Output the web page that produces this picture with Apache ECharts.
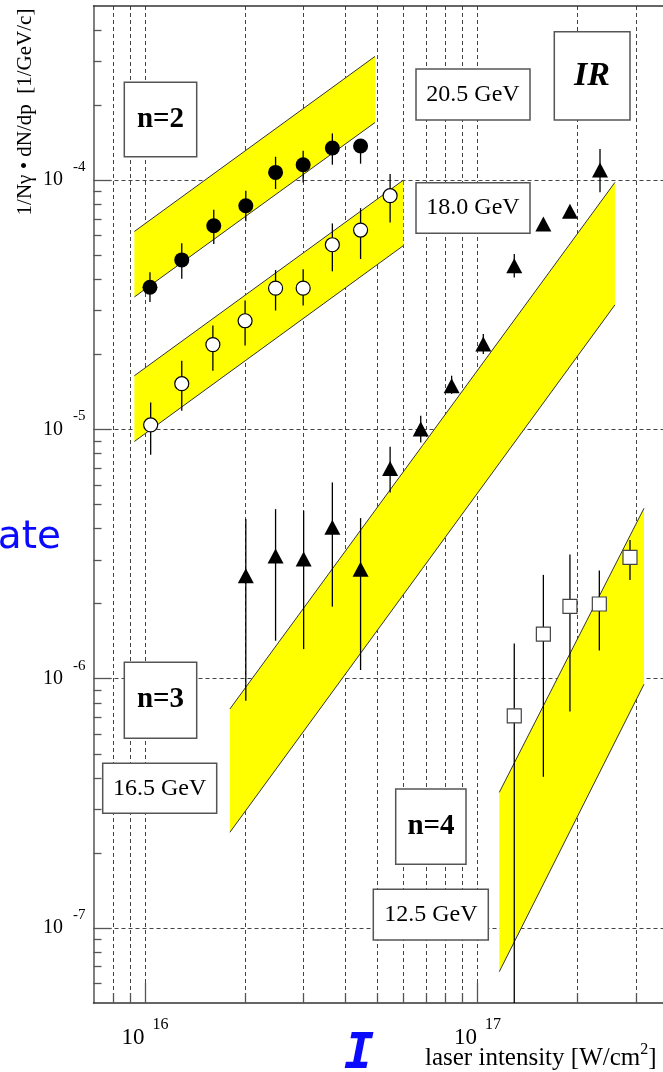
<!DOCTYPE html>
<html><head><meta charset="utf-8">
<script src="https://cdn.jsdelivr.net/npm/echarts@6/dist/echarts.min.js"></script>
<style>html,body{margin:0;padding:0;background:#fff}#c{width:663px;height:1072px}</style>
</head><body><div id="c"></div>
<script>
// ---- axis ticks ----
const xTickMajor = [1e16, 1e17];
const xTickMinor = [8e15, 9e15, 2e16, 3e16, 4e16, 5e16, 6e16, 7e16, 8e16, 9e16, 2e17, 3e17];
const yTickMajor = [1e-7, 1e-6, 1e-5, 1e-4];
const yTickMinor = [6e-8, 7e-8, 8e-8, 9e-8,
  2e-7, 3e-7, 4e-7, 5e-7, 6e-7, 7e-7, 8e-7, 9e-7,
  2e-6, 3e-6, 4e-6, 5e-6, 6e-6, 7e-6, 8e-6, 9e-6,
  2e-5, 3e-5, 4e-5, 5e-5, 6e-5, 7e-5, 8e-5, 9e-5,
  2e-4, 3e-4, 4e-4];

// ---- n=2, 20.5 GeV (filled circles) ----
const e205_x  = [1.035e16, 1.29e16, 1.61e16, 2.01e16, 2.47e16, 2.99e16, 3.66e16, 4.45e16];
const e205_y  = [3.72e-5, 4.79e-5, 6.57e-5, 7.9e-5, 1.075e-4, 1.154e-4, 1.346e-4, 1.371e-4];
const e205_lo = [3.25e-5, 4.02e-5, 5.55e-5, 6.84e-5, 9.22e-5, 9.8e-5, 1.154e-4, 1.165e-4];
const e205_hi = [4.27e-5, 5.58e-5, 7.61e-5, 9.07e-5, 1.242e-4, 1.313e-4, 1.541e-4, 1.45e-4];

// ---- n=2, 18.0 GeV (open circles) ----
const e180_x  = [1.04e16, 1.29e16, 1.60e16, 2.0e16, 2.47e16, 2.99e16, 3.66e16, 4.45e16, 5.46e16];
const e180_y  = [1.043e-5, 1.526e-5, 2.19e-5, 2.73e-5, 3.69e-5, 3.69e-5, 5.51e-5, 6.31e-5, 8.67e-5];
const e180_lo = [7.92e-6, 1.19e-5, 1.72e-5, 2.17e-5, 3.0e-5, 3.14e-5, 4.31e-5, 4.83e-5, 6.77e-5];
const e180_hi = [1.284e-5, 1.887e-5, 2.61e-5, 3.29e-5, 4.36e-5, 4.39e-5, 6.71e-5, 7.73e-5, 1.059e-4];

// ---- n=3, 16.5 GeV (triangles) ----
const e165_x  = [2.01e16, 2.47e16, 3.0e16, 3.66e16, 4.45e16, 5.46e16, 6.75e16, 8.36e16, 1.041e17, 1.29e17, 1.578e17, 1.897e17, 2.336e17];
const e165_y  = [2.59e-6, 3.11e-6, 3.02e-6, 4.05e-6, 2.75e-6, 6.98e-6, 1.004e-5, 1.498e-5, 2.2e-5, 4.54e-5, 6.67e-5, 7.5e-5, 1.099e-4];
const e165_lo = [8.16e-7, 1.42e-6, 1.315e-6, 1.946e-6, 1.084e-6, 5.59e-6, 8.87e-6, 1.39e-5, 2.01e-5, 4.07e-5, 6.45e-5, 7.25e-5, 8.94e-5];
const e165_hi = [4.37e-6, 4.79e-6, 4.72e-6, 6.13e-6, 4.41e-6, 8.52e-6, 1.135e-5, 1.643e-5, 2.415e-5, 5.06e-5, 6.9e-5, 7.75e-5, 1.334e-4];

// ---- n=4, 12.5 GeV (open squares) ----
const e125_x  = [1.29e17, 1.578e17, 1.897e17, 2.325e17, 2.875e17];
const e125_y  = [7.1e-7, 1.511e-6, 1.95e-6, 1.994e-6, 3.07e-6];
const e125_lo = [3e-8, 4.04e-7, 7.39e-7, 1.298e-6, 2.49e-6];
const e125_hi = [1.385e-6, 2.61e-6, 3.15e-6, 2.72e-6, 3.6e-6];

// ---- yellow theory bands: [20.5 GeV, 18.0 GeV, 16.5 GeV, 12.5 GeV] ----
const bandXL   = [9.29e15, 9.29e15, 1.80e16, 1.163e17];
const bandXR   = [4.92e16, 5.98e16, 2.59e17, 3.168e17];
const bandTopL = [6.23e-5, 1.643e-5, 7.56e-7, 3.5e-7];
const bandTopR = [3.14e-4, 1.0e-4, 9.8e-5, 4.83e-6];
const bandBotL = [3.40e-5, 8.95e-6, 2.42e-7, 6.68e-8];
const bandBotR = [1.705e-4, 5.46e-5, 3.16e-5, 9.5e-7];

const SERIF = '"Liberation Serif","DejaVu Serif",serif';
const AX = '#555';
const X_MIN = 7e15, X_MAX = 3.6135e17, Y_MIN = 5e-8, Y_MAX = 5e-4;

function pts(xs, ys) { return xs.map((x, i) => [x, ys[i]]); }
function errs(xs, lo, hi) { return xs.map((x, i) => [x, lo[i], hi[i]]); }

function errItem(params, api) {
  const a = api.coord([api.value(0), api.value(1)]);
  const b = api.coord([api.value(0), api.value(2)]);
  return { type: 'line', shape: { x1: a[0], y1: a[1], x2: b[0], y2: b[1] },
           style: { stroke: '#000', lineWidth: 1.3 } };
}
function errSeries(name, data) {
  return { type: 'custom', name, xAxisIndex: 0, yAxisIndex: 0, clip: true, z: 3,
           encode: { x: 0, y: [1, 2] }, renderItem: errItem, data };
}

const bandData = bandXL.map((xl, i) => [xl, bandXR[i], bandTopL[i], bandTopR[i], bandBotL[i], bandBotR[i]]);

const supLabel = (v) => '{b|10}{s|' + Math.round(Math.log10(v)) + '}';
const dashed = { show: true, lineStyle: { type: [4, 3], color: '#444', width: 1 } };

const option = {
  animation: false,
  backgroundColor: '#fff',
  grid: { left: 93.5, top: 6, width: 569.5, height: 997, show: false },
  xAxis: [
    { type: 'log', logBase: 10, min: X_MIN, max: X_MAX, position: 'bottom',
      axisLine: { show: true, lineStyle: { color: '#333', width: 1.5 } },
      axisTick: { show: true, inside: true, length: 20, customValues: xTickMajor, lineStyle: { color: AX, width: 1.3 } },
      axisLabel: { show: true, customValues: xTickMajor, margin: 14, formatter: supLabel,
        rich: { b: { fontFamily: SERIF, fontSize: 23, color: '#000' },
                s: { fontFamily: SERIF, fontSize: 16, color: '#000', padding: [0, 0, 26, 8] } } },
      splitLine: dashed, minorTick: { show: false }, minorSplitLine: { show: false } },
    { type: 'log', logBase: 10, min: X_MIN, max: X_MAX, position: 'bottom',
      axisLine: { show: false },
      axisTick: { show: true, inside: true, length: 10, customValues: xTickMinor, lineStyle: { color: AX, width: 1.3 } },
      axisLabel: { show: false }, splitLine: dashed },
    { type: 'log', logBase: 10, min: X_MIN, max: X_MAX, position: 'top',
      axisLine: { show: true, lineStyle: { color: '#333', width: 1.5 } },
      axisTick: { show: false }, axisLabel: { show: false }, splitLine: { show: false } }
  ],
  yAxis: [
    { type: 'log', logBase: 10, min: Y_MIN, max: Y_MAX, position: 'left',
      axisLine: { show: true, lineStyle: { color: '#555', width: 1.5 } },
      axisTick: { show: true, inside: true, length: 18, customValues: yTickMajor, lineStyle: { color: AX, width: 1.3 } },
      axisLabel: { show: true, customValues: yTickMajor, margin: 8, formatter: supLabel,
        rich: { b: { fontFamily: SERIF, fontSize: 20, color: '#000' },
                s: { fontFamily: SERIF, fontSize: 15, color: '#000', padding: [0, 0, 26, 10] } } },
      splitLine: dashed, minorTick: { show: false }, minorSplitLine: { show: false } },
    { type: 'log', logBase: 10, min: Y_MIN, max: Y_MAX, position: 'left',
      axisLine: { show: false },
      axisTick: { show: true, inside: true, length: 8, customValues: yTickMinor, lineStyle: { color: AX, width: 1.3 } },
      axisLabel: { show: false }, splitLine: { show: false } }
  ],
  series: [
    { type: 'custom', name: 'bands', xAxisIndex: 0, yAxisIndex: 0, clip: true, z: 1,
      encode: { x: [0, 1], y: [2, 3, 4, 5] }, data: bandData,
      renderItem(params, api) {
        const xl = api.value(0), xr = api.value(1);
        const tl = api.coord([xl, api.value(2)]), tr = api.coord([xr, api.value(3)]);
        const bl = api.coord([xl, api.value(4)]), br = api.coord([xr, api.value(5)]);
        return { type: 'group', children: [
          { type: 'polygon', shape: { points: [tl, tr, br, bl] }, style: { fill: '#ffff00', stroke: null } },
          { type: 'line', shape: { x1: tl[0], y1: tl[1], x2: tr[0], y2: tr[1] }, style: { stroke: '#333', lineWidth: 1 } },
          { type: 'line', shape: { x1: bl[0], y1: bl[1], x2: br[0], y2: br[1] }, style: { stroke: '#333', lineWidth: 1 } }
        ] };
      } },
    errSeries('err205', errs(e205_x, e205_lo, e205_hi)),
    errSeries('err180', errs(e180_x, e180_lo, e180_hi)),
    errSeries('err165', errs(e165_x, e165_lo, e165_hi)),
    errSeries('err125', errs(e125_x, e125_lo, e125_hi)),
    { type: 'scatter', name: '20.5 GeV', xAxisIndex: 0, yAxisIndex: 0, z: 5, symbol: 'circle', symbolSize: 15,
      itemStyle: { color: '#000', opacity: 1 }, data: pts(e205_x, e205_y) },
    { type: 'scatter', name: '18.0 GeV', xAxisIndex: 0, yAxisIndex: 0, z: 5, symbol: 'circle', symbolSize: 14,
      itemStyle: { color: '#fff', borderColor: '#000', borderWidth: 1.2, opacity: 1 }, data: pts(e180_x, e180_y) },
    { type: 'scatter', name: '16.5 GeV', xAxisIndex: 0, yAxisIndex: 0, z: 5, symbol: 'triangle', symbolSize: [16, 15],
      itemStyle: { color: '#000', opacity: 1 }, data: pts(e165_x, e165_y) },
    { type: 'scatter', name: '12.5 GeV', xAxisIndex: 0, yAxisIndex: 0, z: 5, symbol: 'rect', symbolSize: 14,
      itemStyle: { color: '#fff', borderColor: '#444', borderWidth: 1.2, opacity: 1 }, data: pts(e125_x, e125_y) }
  ],
  graphic: [
    { type: 'text', x: 25, y: 112, rotation: Math.PI / 2, z: 100,
      style: { text: '1/N\u03b3 \u2022 dN/dp  [1/GeV/c]', font: '21px ' + SERIF, fill: '#000', align: 'center', verticalAlign: 'middle' } },
    { type: 'text', x: 425, y: 1058, z: 100,
      style: { text: 'laser intensity [W/cm{s|2}]', font: '25px ' + SERIF, fill: '#000', align: 'left', verticalAlign: 'middle',
               rich: { s: { fontFamily: SERIF, fontSize: 16, fill: '#000', padding: [0, 0, 16, 0] } } } },
    { type: 'text', x: 61, y: 557, z: 100,
      style: { text: 'Rate', font: '39px "DejaVu Sans", sans-serif', fill: '#0a0aff', align: 'right', verticalAlign: 'bottom' } },
    { type: 'text', x: 359, y: 1080, z: 100,
      style: { text: 'I', font: 'bold oblique 50px "DejaVu Sans Mono", monospace', fill: '#0a0aff', align: 'center', verticalAlign: 'bottom' } },
    { type: 'rect', z: 50, shape: { x: 124.3, y: 82.3, width: 72.4, height: 74.4 }, style: { fill: '#fff', stroke: '#555', lineWidth: 1.5 } },
    { type: 'text', z: 51, x: 160.5, y: 120, style: { text: 'n=2', font: 'bold 29px ' + SERIF, fill: '#000', align: 'center', verticalAlign: 'middle' } },
    { type: 'rect', z: 50, shape: { x: 416, y: 69, width: 114, height: 51 }, style: { fill: '#fff', stroke: '#555', lineWidth: 1.5 } },
    { type: 'text', z: 51, x: 473, y: 95, style: { text: '20.5 GeV', font: '24px ' + SERIF, fill: '#000', align: 'center', verticalAlign: 'middle' } },
    { type: 'rect', z: 50, shape: { x: 554.3, y: 31.7, width: 75.7, height: 88.3 }, style: { fill: '#fff', stroke: '#555', lineWidth: 1.5 } },
    { type: 'text', z: 51, x: 592, y: 76, style: { text: 'IR', font: 'italic bold 34px ' + SERIF, fill: '#000', align: 'center', verticalAlign: 'middle' } },
    { type: 'rect', z: 50, shape: { x: 416, y: 182.7, width: 114, height: 50.6 }, style: { fill: '#fff', stroke: '#555', lineWidth: 1.5 } },
    { type: 'text', z: 51, x: 473, y: 208, style: { text: '18.0 GeV', font: '24px ' + SERIF, fill: '#000', align: 'center', verticalAlign: 'middle' } },
    { type: 'rect', z: 50, shape: { x: 124.3, y: 662.3, width: 72.4, height: 76 }, style: { fill: '#fff', stroke: '#555', lineWidth: 1.5 } },
    { type: 'text', z: 51, x: 160.5, y: 700, style: { text: 'n=3', font: 'bold 29px ' + SERIF, fill: '#000', align: 'center', verticalAlign: 'middle' } },
    { type: 'rect', z: 50, shape: { x: 102.7, y: 763.3, width: 114, height: 50 }, style: { fill: '#fff', stroke: '#555', lineWidth: 1.5 } },
    { type: 'text', z: 51, x: 159.7, y: 788.5, style: { text: '16.5 GeV', font: '24px ' + SERIF, fill: '#000', align: 'center', verticalAlign: 'middle' } },
    { type: 'rect', z: 50, shape: { x: 395.7, y: 789, width: 70.3, height: 75.3 }, style: { fill: '#fff', stroke: '#555', lineWidth: 1.5 } },
    { type: 'text', z: 51, x: 431, y: 827, style: { text: 'n=4', font: 'bold 29px ' + SERIF, fill: '#000', align: 'center', verticalAlign: 'middle' } },
    { type: 'rect', z: 50, shape: { x: 373.3, y: 889.3, width: 115, height: 50.7 }, style: { fill: '#fff', stroke: '#555', lineWidth: 1.5 } },
    { type: 'text', z: 51, x: 430.8, y: 914.7, style: { text: '12.5 GeV', font: '24px ' + SERIF, fill: '#000', align: 'center', verticalAlign: 'middle' } }
  ]
};

const chart = echarts.init(document.getElementById('c'), null, { renderer: 'canvas' });
chart.setOption(option);
</script>
</body></html>
